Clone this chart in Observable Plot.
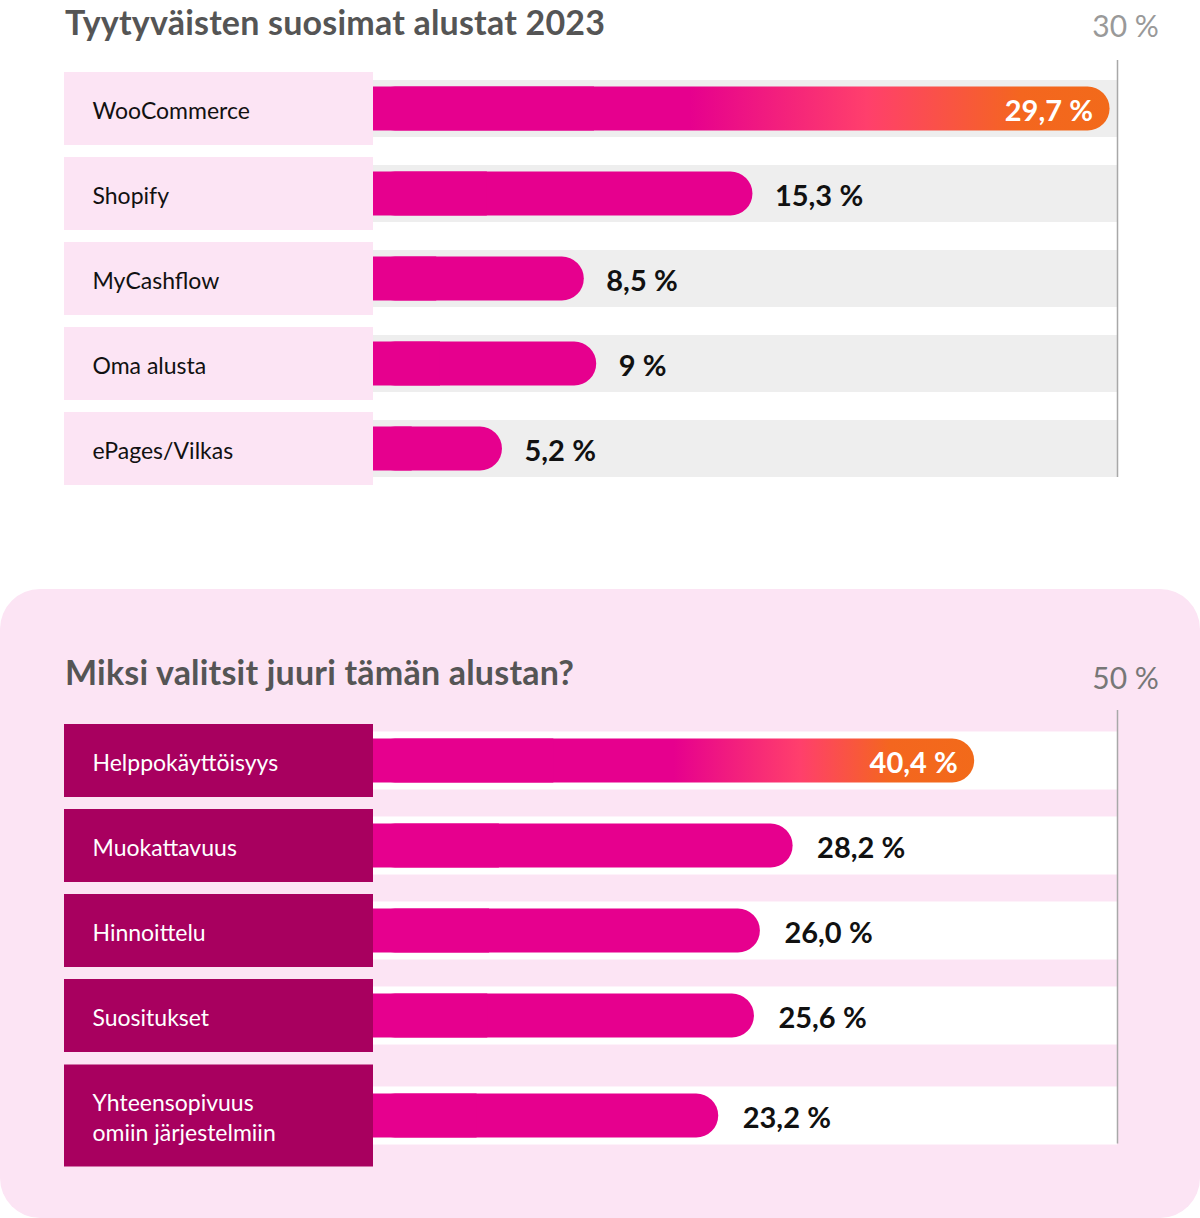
<!DOCTYPE html>
<html><head><meta charset="utf-8">
<script src="https://cdn.jsdelivr.net/npm/d3@7"></script>
<script src="https://cdn.jsdelivr.net/npm/@observablehq/plot@0.6"></script>
<style>
body{margin:0;background:#fff;font-family:Lato,"Noto Sans",sans-serif;}
#page{position:relative;width:1200px;height:1218px;overflow:hidden;}
.title{position:absolute;left:65px;margin:0;font-size:34px;font-weight:700;color:#555;line-height:1;white-space:nowrap;letter-spacing:0.2px;}
#t1{top:5px;}
#t2{top:655px;}
#panel{position:absolute;left:0;top:589px;width:1200px;height:629px;background:#fce4f4;border-radius:40px;}
.chart{position:absolute;left:0;width:1200px;}
#c1{top:0;}
#c2{top:589px;}
</style></head><body>
<div id="page">
  <div id="panel"></div>
  <div class="chart" id="c1"></div>
  <div class="chart" id="c2"></div>
  <h2 class="title" id="t1">Tyytyväisten suosimat alustat 2023</h2>
  <h2 class="title" id="t2">Miksi valitsit juuri tämän alustan?</h2>
</div>
<script>
// ---- data ----
const platforms = ["WooCommerce", "Shopify", "MyCashflow", "Oma alusta", "ePages/Vilkas"];
const platformShares = [29.7, 15.3, 8.5, 9, 5.2];
const platformLabels = ["29,7\u202F%", "15,3\u202F%", "8,5\u202F%", "9\u202F%", "5,2\u202F%"];
const platformMax = 30;

const reasons = ["Helppokäyttöisyys", "Muokattavuus", "Hinnoittelu", "Suositukset", "Yhteensopivuus\nomiin järjestelmiin"];
const reasonShares = [40.4, 28.2, 26.0, 25.6, 23.2];
const reasonLabels = ["40,4 %", "28,2 %", "26,0\u202F%", "25,6\u202F%", "23,2\u202F%"];
const reasonMax = 50;

const MAGENTA = "#e6008e";

function makeChart(cfg) {
  const rows = cfg.cats.map((c, i) => ({cat: c, value: cfg.vals[i], label: cfg.labels[i], top: i === 0, tall: c.includes("\n")}));
  const groups = [
    {data: rows.filter(d => !d.tall), dy: 0, boxInset: 6},
    {data: rows.filter(d => d.tall), dy: 15, boxInset: -8.5}
  ];
  const marks = [];
  for (const g of groups) {
    if (!g.data.length) continue;
    const barIn = 20.5;
    marks.push(
      Plot.barX(g.data, {x1: d => 0, x2: d => 0, y: "cat", fill: cfg.boxFill, insetLeft: -309, insetTop: g.boxInset, insetBottom: g.boxInset, dy: g.dy}),
      Plot.barX(g.data, {x1: d => 0, x2: d => cfg.max, y: "cat", fill: cfg.trackFill, insetTop: cfg.trackInset, insetBottom: cfg.trackInset, dy: g.dy}),
      Plot.barX(g.data.filter(d => !d.top), {x1: d => 0, x2: "value", y: "cat", fill: MAGENTA, rx: 22, insetTop: barIn, insetBottom: barIn, dy: g.dy}),
      Plot.barX(g.data.filter(d => d.top), {x1: d => 0, x2: "value", y: "cat", fill: `url(#${cfg.gradId})`, rx: 22, insetTop: barIn, insetBottom: barIn, dy: g.dy}),
      Plot.barX(g.data, {x1: d => 0, x2: d => d.value * 0.3, y: "cat", fill: MAGENTA, insetTop: barIn, insetBottom: barIn, dy: g.dy}),
      Plot.text(g.data, {x: d => 0, y: "cat", text: "cat", textAnchor: "start", dx: -281, dy: g.dy, fill: cfg.labelFill, fontSize: 23, lineHeight: 1.3}),
      Plot.text(g.data.filter(d => !d.top), {x: "value", y: "cat", text: "label", textAnchor: "start", dx: cfg.valueDx, dy: g.dy + 3, fill: "#111", fontSize: 29, fontWeight: 700}),
      Plot.text(g.data.filter(d => d.top), {x: "value", y: "cat", text: "label", textAnchor: "end", dx: -17, dy: g.dy + 3, fill: "#fff", fontSize: 29, fontWeight: 700})
    );
  }
  marks.push(
    Plot.ruleX([cfg.max], {stroke: "#a8a8a8", strokeWidth: 1.5, insetTop: cfg.ruleInsetTop, insetBottom: cfg.ruleInsetBottom}),
    Plot.text([cfg.max], {x: d => d, frameAnchor: "top", dy: cfg.axisDy, dx: 8, text: d => `${d}\u202F%`, fill: cfg.axisColor, fontSize: 30, lineAnchor: "middle"})
  );
  const svg = Plot.plot({
    width: 1200, height: cfg.height,
    marginLeft: 373, marginRight: 83, marginTop: cfg.marginTop, marginBottom: cfg.height - cfg.marginTop - 85 * cfg.cats.length,
    x: {domain: [0, cfg.max], axis: null},
    y: {type: "band", domain: cfg.cats, padding: 0, axis: null},
    style: {fontFamily: "Lato, 'Noto Sans', sans-serif", background: "transparent", overflow: "visible", maxWidth: "none"},
    marks
  });
  d3.select(svg).insert("defs", ":first-child").html(
    `<linearGradient id="${cfg.gradId}" x1="0" x2="1" y1="0" y2="0">
      <stop offset="0" stop-color="${MAGENTA}"/>
      <stop offset="${cfg.g1}" stop-color="${MAGENTA}"/>
      <stop offset="${cfg.g2}" stop-color="#ff3f6c"/>
      <stop offset="${cfg.g3}" stop-color="#f4661f"/>
      <stop offset="1" stop-color="#f26a1a"/>
    </linearGradient>`);
  return svg;
}

document.getElementById("c1").append(makeChart({
  cats: platforms, vals: platformShares, labels: platformLabels, max: platformMax,
  boxFill: "#fce4f4", labelFill: "#111", trackFill: "#eeeeee", trackInset: 14,
  height: 520, marginTop: 66, valueDx: 22, gradId: "gradTop",
  ruleInsetTop: -6, ruleInsetBottom: 14, axisDy: -39, axisColor: "#999",
  g1: 0.43, g2: 0.67, g3: 0.88
}));

document.getElementById("c2").append(makeChart({
  cats: reasons, vals: reasonShares, labels: reasonLabels, max: reasonMax,
  boxFill: "#a8005f", labelFill: "#fff", trackFill: "#ffffff", trackInset: 13.5,
  height: 629, marginTop: 128.5, valueDx: 24, gradId: "gradBottom",
  ruleInsetTop: -7.5, ruleInsetBottom: -1, axisDy: -38.5, axisColor: "#777",
  g1: 0.5, g2: 0.71, g3: 0.86
}));
</script>
</body></html>
